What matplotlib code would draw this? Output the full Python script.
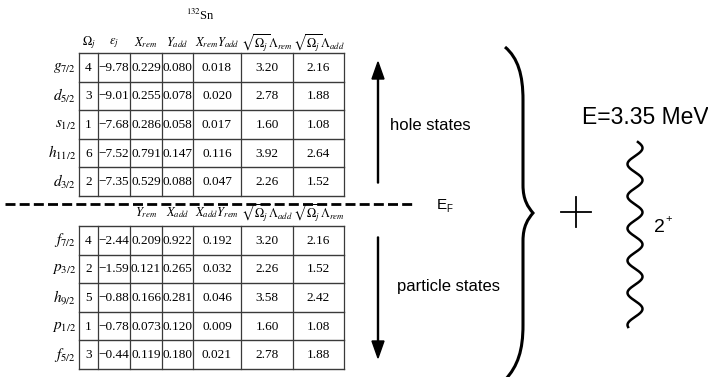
import matplotlib
matplotlib.use("Agg")
import matplotlib.pyplot as plt
import numpy as np
from matplotlib.path import Path
from matplotlib.patches import PathPatch

plt.rcParams['mathtext.fontset'] = 'stix'

# 表格數據：空穴態 (hole states)
hole_labels = [r'$g_{7/2}$', r'$d_{5/2}$', r'$s_{1/2}$', r'$h_{11/2}$', r'$d_{3/2}$']
hole_omega = [4, 3, 1, 6, 2]
hole_eps = [-9.78, -9.01, -7.68, -7.52, -7.35]
hole_xrem = [0.229, 0.255, 0.286, 0.791, 0.529]
hole_yadd = [0.080, 0.078, 0.058, 0.147, 0.088]
hole_xy = [0.018, 0.020, 0.017, 0.116, 0.047]
hole_lrem = [3.20, 2.78, 1.60, 3.92, 2.26]
hole_ladd = [2.16, 1.88, 1.08, 2.64, 1.52]
hole_header = [r'$\Omega_j$', r'$\varepsilon_j$', r'$X_{rem}$', r'$Y_{add}$',
               r'$X_{rem}Y_{add}$', r'$\sqrt{\Omega_j}\Lambda_{rem}$', r'$\sqrt{\Omega_j}\Lambda_{add}$']

# 表格數據：粒子態 (particle states)
part_labels = [r'$f_{7/2}$', r'$p_{3/2}$', r'$h_{9/2}$', r'$p_{1/2}$', r'$f_{5/2}$']
part_omega = [4, 2, 5, 1, 3]
part_eps = [-2.44, -1.59, -0.88, -0.78, -0.44]
part_yrem = [0.209, 0.121, 0.166, 0.073, 0.119]
part_xadd = [0.922, 0.265, 0.281, 0.120, 0.180]
part_xy = [0.192, 0.032, 0.046, 0.009, 0.021]
part_ladd = [3.20, 2.26, 3.58, 1.60, 2.78]
part_lrem = [2.16, 1.52, 2.42, 1.08, 1.88]
part_header = ['', '', r'$Y_{rem}$', r'$X_{add}$',
               r'$X_{add}Y_{rem}$', r'$\sqrt{\Omega_j}\Lambda_{add}$', r'$\sqrt{\Omega_j}\Lambda_{rem}$']

# 版面：以像素為座標
col_x = [79, 98, 130, 162, 193, 241, 293, 344]
SERIF = 'Liberation Serif'
SANS = 'Liberation Sans'
LINE = '#3a3a3a'

fig = plt.figure(figsize=(7.08, 3.77), dpi=100)
ax = fig.add_axes([0, 0, 1, 1])
ax.set_xlim(0, 708)
ax.set_ylim(377, 0)
ax.axis('off')


def fmt_eps(v):
    return f'{v:.2f}'.replace('-', '\u2212')


def draw_table(top, bottom, header_y, header, labels, cols):
    n = len(labels)
    row_y = np.linspace(top, bottom, n + 1)
    for x in col_x:
        ax.plot([x, x], [top, bottom], color=LINE, lw=0.9)
    for y in row_y:
        ax.plot([col_x[0], col_x[-1]], [y, y], color=LINE, lw=1.0)
    centers = [(col_x[i] + col_x[i + 1]) / 2 for i in range(len(col_x) - 1)]
    for c, h in zip(centers, header):
        if h:
            ax.text(c, header_y, h, ha='center', va='center', fontsize=9)
    for i in range(n):
        yc = (row_y[i] + row_y[i + 1]) / 2
        ax.text(col_x[0] - 3, yc, labels[i], ha='right', va='center', fontsize=11)
        vals = [str(cols[0][i]), fmt_eps(cols[1][i]), f'{cols[2][i]:.3f}', f'{cols[3][i]:.3f}',
                f'{cols[4][i]:.3f}', f'{cols[5][i]:.2f}', f'{cols[6][i]:.2f}']
        for c, v in zip(centers, vals):
            ax.text(c, yc + 0.5, v, ha='center', va='center', fontsize=9.5, family=SERIF)


ax.text(200, 15, r'$^{132}$Sn', ha='center', va='center', fontsize=9, family=SERIF)

draw_table(53, 196, 43, hole_header, hole_labels,
           [hole_omega, hole_eps, hole_xrem, hole_yadd, hole_xy, hole_lrem, hole_ladd])
draw_table(226, 369, 213, part_header, part_labels,
           [part_omega, part_eps, part_yrem, part_xadd, part_xy, part_ladd, part_lrem])

# 費米面
ax.plot([5, 413], [204, 204], color='black', lw=2.0, dashes=(3.6, 1.5))
ax.text(437, 205, 'E', ha='left', va='center', fontsize=11, family=SANS)
ax.text(446, 209, 'F', ha='left', va='center', fontsize=7, family=SANS)

# 箭頭
ax.arrow(378, 183, 0, -121, width=1.0, head_width=12, head_length=17,
         length_includes_head=True, color='black')
ax.arrow(378, 237, 0, 121, width=1.0, head_width=12, head_length=17,
         length_includes_head=True, color='black')
ax.text(390, 126, 'hole states', ha='left', va='center', fontsize=12, family=SANS)
ax.text(397, 287, 'particle states', ha='left', va='center', fontsize=12, family=SANS)

# 大括號
verts = [(505, 47), (518, 58), (523, 75), (523, 100),
         (523, 185),
         (523, 200), (528, 207), (533, 213),
         (528, 219), (523, 226), (523, 241),
         (523, 325),
         (523, 350), (518, 366), (505, 380)]
codes = [Path.MOVETO, Path.CURVE4, Path.CURVE4, Path.CURVE4,
         Path.LINETO,
         Path.CURVE4, Path.CURVE4, Path.CURVE4,
         Path.CURVE4, Path.CURVE4, Path.CURVE4,
         Path.LINETO,
         Path.CURVE4, Path.CURVE4, Path.CURVE4]
ax.add_patch(PathPatch(Path(verts, codes), fill=False, lw=2.2, color='black'))

# 加號
ax.plot([561, 591], [212, 212], color='black', lw=1.3)
ax.plot([576, 576], [197, 227], color='black', lw=1.3)

# 聲子
ax.text(582, 118, 'E=3.35 MeV', ha='left', va='center', fontsize=16.5, family=SANS)
t = np.linspace(0, 1, 600)
wy = 142 + 185 * t
wx = 635 + 7.5 * np.sin(2 * np.pi * 5.75 * t + 0.4)
ax.plot(wx, wy, color='black', lw=1.8)
ax.text(654, 228, '2', ha='left', va='center', fontsize=14, family=SANS)
ax.text(665, 219, '+', ha='left', va='center', fontsize=8, family=SANS)

fig.savefig('out.png', dpi=100)
plt.close(fig)
